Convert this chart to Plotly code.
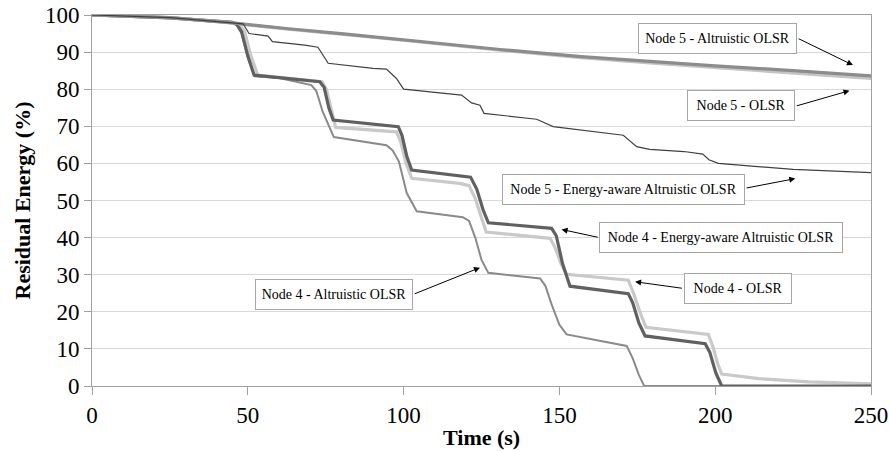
import plotly.graph_objects as go

# ---------------- data ----------------
t_n5_alt = [0, 25, 45, 50, 63, 80, 100, 131, 157, 180, 200, 225, 250]
v_n5_alt = [100, 99.3, 97.9, 97.4, 96.3, 95.0, 93.3, 90.7, 88.8, 87.4, 86.3, 85.0, 83.6]

t_n5_olsr = [0, 25, 45, 50, 63, 80, 100, 131, 157, 180, 200, 225, 250]
v_n5_olsr = [100, 99.3, 97.9, 97.3, 96.2, 94.9, 93.2, 90.5, 88.5, 87.0, 85.8, 84.3, 82.9]

t_n5_ea = [0, 25, 45, 48.5, 50.4, 56.5, 57.9, 68.3, 72.5, 74.2, 75.8, 90.2, 94.5, 97.7, 100,
           118.6, 121.8, 124.5, 125.8, 142.7, 148, 170.5, 174.8, 179, 190, 196, 198, 201,
           210, 225, 250]
v_n5_ea = [100, 99.3, 97.9, 97.6, 95.0, 94.3, 92.8, 91.9, 91.3, 89.2, 87.0, 85.6, 85.4, 82.9, 80.0,
           78.4, 76.3, 75.7, 73.5, 71.9, 69.9, 67.6, 64.5, 63.8, 63.2, 62.5, 61.0, 60.0,
           59.4, 58.4, 57.5]

t_n4_ea = [0, 25, 45, 46.5, 48, 50, 52, 60, 73.1, 74.5, 76, 77.4, 98.3, 99.5, 101, 102.6,
           118, 121.5, 123.5, 125.5, 127.2, 147.5, 149, 151, 153.4, 172.1, 173.5, 175.5,
           177.5, 196.8, 198.3, 200.2, 202.1, 250]
v_n4_ea = [100, 99.2, 98.0, 97.4, 95.5, 89, 83.8, 83.2, 82.0, 80.5, 75, 71.7, 69.9, 67.5, 62, 58.2,
           56.8, 56.3, 53, 47.5, 44.0, 42.5, 40.5, 33, 26.9, 24.9, 22.5, 17,
           13.5, 11.4, 9, 3.5, 0, 0]

t_n4_olsr = [0, 25, 45, 47.5, 49, 51, 53.2, 60, 73.8, 75.2, 76.8, 78.2, 97.7, 99, 100.8, 102.6,
             118, 121, 123, 125, 126.5, 147, 148.5, 150.5, 152.3, 172.1, 173.8, 175.8, 177.8,
             197.8, 199.3, 200.8, 202.1, 214, 230, 250]
v_n4_olsr = [100, 99.2, 98.0, 97.2, 95.5, 89, 83.8, 83.2, 82.0, 80, 74, 69.7, 68.5, 66, 60, 56.0,
             54.6, 54.0, 50.5, 45, 41.5, 39.8, 37.5, 33, 30.1, 28.5, 25, 20, 15.8,
             13.9, 10.5, 6, 3.2, 2.0, 1.1, 0.6]

t_n4_alt = [0, 25, 45, 46.5, 48, 50, 52.2, 60, 70.4, 72, 74, 77.6, 94.5, 96.5, 98.5, 101, 104.2,
            119, 121, 123, 125, 127.2, 143.8, 145.5, 147.5, 150, 152.3, 171.6, 173.5, 175.5,
            177.2, 250]
v_n4_alt = [100, 99.2, 98.0, 97.3, 95, 88.5, 83.5, 83.0, 81.1, 79.5, 74, 67.1, 64.9, 63.5, 60.5, 52, 47.1,
            45.5, 44.5, 40, 34, 30.5, 29.0, 27, 22, 16.5, 13.9, 10.8, 7.5, 3,
            0, 0]

x_ticks = [0, 50, 100, 150, 200, 250]
y_ticks = [0, 10, 20, 30, 40, 50, 60, 70, 80, 90, 100]

labels = [
    "Node 5 - Altruistic OLSR",
    "Node 5 - OLSR",
    "Node 5 - Energy-aware Altruistic OLSR",
    "Node 4 - Energy-aware Altruistic OLSR",
    "Node 4 - OLSR",
    "Node 4 - Altruistic OLSR",
]

# ---------------- figure ----------------
FONT = "Liberation Serif, Times New Roman, serif"
fig = go.Figure()

series = [
    (t_n4_olsr, v_n4_olsr, "#c9c9c9", 3.2, labels[4]),
    (t_n4_alt, v_n4_alt, "#8a8a8a", 2.0, labels[5]),
    (t_n4_ea, v_n4_ea, "#606060", 3.2, labels[3]),
    (t_n5_olsr, v_n5_olsr, "#c4c4c4", 3.2, labels[1]),
    (t_n5_alt, v_n5_alt, "#8c8c8c", 3.2, labels[0]),
    (t_n5_ea, v_n5_ea, "#404040", 1.2, labels[2]),
]
for tx, vy, col, w, name in series:
    fig.add_trace(go.Scatter(x=tx, y=vy, mode="lines", name=name,
                             line=dict(color=col, width=w), showlegend=False))

# label boxes: (center t, center v, width px, height px)
boxes = [
    (200.8, 93.7, 159, 31),
    (208.3, 75.6, 108, 31),
    (170.5, 53.0, 243, 31),
    (202.0, 40.1, 244, 31),
    (207.2, 26.2, 108, 31),
    (77.7, 24.7, 158, 31),
]
# arrows: (tail t, tail v, head t, head v)
arrows = [
    (226.3, 93.8, 244.2, 86.5),
    (225.7, 75.4, 243.1, 79.6),
    (209.6, 53.3, 225.7, 55.9),
    (162.8, 40.0, 150.7, 42.2),
    (189.8, 26.3, 174.3, 28.1),
    (103.1, 24.7, 124.5, 31.9),
]

annotations = []
for (bx, by, bw, bh), text in zip(boxes, labels):
    annotations.append(dict(
        x=bx, y=by, xref="x", yref="y", text=text, showarrow=False,
        font=dict(family=FONT, size=14, color="black"),
        bgcolor="white", bordercolor="#a6a6a6", borderwidth=1, borderpad=0,
        width=bw - 2, height=bh - 2, xanchor="center", yanchor="middle"))
for (tx, ty, hx, hy) in arrows:
    annotations.append(dict(
        x=hx, y=hy, xref="x", yref="y", ax=tx, ay=ty, axref="x", ayref="y",
        text="", showarrow=True, arrowhead=2, arrowsize=1.2, arrowwidth=1,
        arrowcolor="black", standoff=0, startstandoff=0))

annotations.append(dict(
    text="<b>Residual Energy (%)</b>", xref="paper", yref="paper", x=0, y=0.5,
    xanchor="center", yanchor="middle", xshift=-70, textangle=-90, showarrow=False,
    font=dict(family=FONT, size=22, color="black")))
annotations.append(dict(
    text="<b>Time (s)</b>", xref="paper", yref="paper", x=0.5, y=0,
    xanchor="center", yanchor="middle", yshift=-51, showarrow=False,
    font=dict(family=FONT, size=22, color="black")))

fig.update_layout(
    width=889, height=451,
    margin=dict(l=92, r=18, t=15, b=65, autoexpand=False),
    paper_bgcolor="white", plot_bgcolor="white",
    annotations=annotations,
    xaxis=dict(range=[0, 250], tickvals=x_ticks, ticktext=[str(v) for v in x_ticks],
               automargin=False,
               showgrid=False, zeroline=False, showline=True, linecolor="#a0a0a0",
               linewidth=1, mirror=True, ticks="outside", ticklen=8, tickcolor="#a0a0a0",
               tickfont=dict(family=FONT, size=23, color="black")),
    yaxis=dict(range=[0, 100], tickvals=y_ticks, ticktext=[str(v) for v in y_ticks],
               automargin=False,
               showgrid=True, gridcolor="#d9d9d9", gridwidth=1, zeroline=False,
               showline=True, linecolor="#a0a0a0", linewidth=1, mirror=True,
               ticks="outside", ticklen=7, tickcolor="#a0a0a0",
               tickfont=dict(family=FONT, size=23, color="black")),
)

fig.write_html("out.html", config={"displayModeBar": False},
               post_script="document.body.style.margin='0';document.body.style.overflow='hidden';")
